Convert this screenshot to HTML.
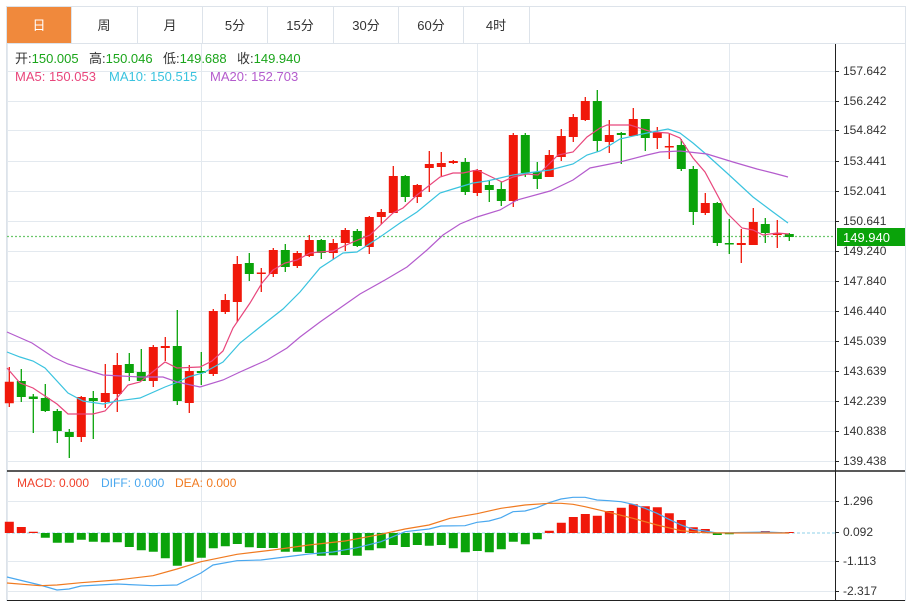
<!DOCTYPE html><html><head><meta charset="utf-8"><style>
body{margin:0;background:#fff;width:911px;height:602px;overflow:hidden;font-family:"Liberation Sans","Noto Sans CJK SC",sans-serif}
</style></head><body>
<svg width="911" height="602" xmlns="http://www.w3.org/2000/svg" font-family="Liberation Sans, Noto Sans CJK SC, sans-serif">
<rect x="6.5" y="6.5" width="899" height="594" fill="#fff" stroke="#dde3ea"/>
<rect x="7" y="7" width="64" height="36" fill="#f0893c"/>
<g stroke="#dde3ea"><line x1="71.5" y1="7" x2="71.5" y2="43"/><line x1="137.5" y1="7" x2="137.5" y2="43"/><line x1="202.5" y1="7" x2="202.5" y2="43"/><line x1="267.5" y1="7" x2="267.5" y2="43"/><line x1="333.5" y1="7" x2="333.5" y2="43"/><line x1="398.5" y1="7" x2="398.5" y2="43"/><line x1="463.5" y1="7" x2="463.5" y2="43"/><line x1="529.5" y1="7" x2="529.5" y2="43"/><line x1="7" y1="43.5" x2="905" y2="43.5"/></g>
<g font-size="13" text-anchor="middle" fill="#333"><text x="39" y="30" fill="#fff">日</text><text x="104" y="30">周</text><text x="170" y="30">月</text><text x="235" y="30">5分</text><text x="300" y="30">15分</text><text x="366" y="30">30分</text><text x="431" y="30">60分</text><text x="496" y="30">4时</text></g>
<g stroke="#e3e9ef"><line x1="7" y1="71.5" x2="835" y2="71.5"/><line x1="7" y1="101.5" x2="835" y2="101.5"/><line x1="7" y1="130.5" x2="835" y2="130.5"/><line x1="7" y1="161.5" x2="835" y2="161.5"/><line x1="7" y1="191.5" x2="835" y2="191.5"/><line x1="7" y1="221.5" x2="835" y2="221.5"/><line x1="7" y1="251.5" x2="835" y2="251.5"/><line x1="7" y1="281.5" x2="835" y2="281.5"/><line x1="7" y1="311.5" x2="835" y2="311.5"/><line x1="7" y1="341.5" x2="835" y2="341.5"/><line x1="7" y1="371.5" x2="835" y2="371.5"/><line x1="7" y1="401.5" x2="835" y2="401.5"/><line x1="7" y1="431.5" x2="835" y2="431.5"/><line x1="7" y1="461.5" x2="835" y2="461.5"/>
<line x1="7" y1="501.5" x2="835" y2="501.5"/><line x1="7" y1="561.5" x2="835" y2="561.5"/><line x1="7" y1="591.5" x2="835" y2="591.5"/>
<line x1="7.5" y1="44" x2="7.5" y2="600"/><line x1="201.5" y1="44" x2="201.5" y2="600"/><line x1="477.5" y1="44" x2="477.5" y2="600"/><line x1="729.5" y1="44" x2="729.5" y2="600"/></g>
<line x1="835.5" y1="44" x2="835.5" y2="601" stroke="#222"/>
<line x1="7" y1="471" x2="905" y2="471" stroke="#222" stroke-width="1.5"/>
<line x1="7" y1="600.5" x2="905" y2="600.5" stroke="#222"/>
<g font-size="12" fill="#333"><text x="843" y="75">157.642</text><text x="843" y="105">156.242</text><text x="843" y="134">154.842</text><text x="843" y="165">153.441</text><text x="843" y="195">152.041</text><text x="843" y="225">150.641</text><text x="843" y="255">149.240</text><text x="843" y="285">147.840</text><text x="843" y="315">146.440</text><text x="843" y="345">145.039</text><text x="843" y="375">143.639</text><text x="843" y="405">142.239</text><text x="843" y="435">140.838</text><text x="843" y="465">139.438</text>
<text x="843" y="505">1.296</text><text x="843" y="536">0.092</text><text x="843" y="565">-1.113</text><text x="843" y="595">-2.317</text></g>
<g stroke="#222"><line x1="835" y1="71.5" x2="839" y2="71.5"/><line x1="835" y1="101.5" x2="839" y2="101.5"/><line x1="835" y1="130.5" x2="839" y2="130.5"/><line x1="835" y1="161.5" x2="839" y2="161.5"/><line x1="835" y1="191.5" x2="839" y2="191.5"/><line x1="835" y1="221.5" x2="839" y2="221.5"/><line x1="835" y1="251.5" x2="839" y2="251.5"/><line x1="835" y1="281.5" x2="839" y2="281.5"/><line x1="835" y1="311.5" x2="839" y2="311.5"/><line x1="835" y1="341.5" x2="839" y2="341.5"/><line x1="835" y1="371.5" x2="839" y2="371.5"/><line x1="835" y1="401.5" x2="839" y2="401.5"/><line x1="835" y1="431.5" x2="839" y2="431.5"/><line x1="835" y1="461.5" x2="839" y2="461.5"/><line x1="835" y1="501.5" x2="839" y2="501.5"/><line x1="835" y1="532.5" x2="839" y2="532.5"/><line x1="835" y1="561.5" x2="839" y2="561.5"/><line x1="835" y1="591.5" x2="839" y2="591.5"/></g>
<line x1="7" y1="533" x2="835" y2="533" stroke="#8fd0ea" stroke-dasharray="3,2"/>
<line x1="7" y1="236.5" x2="835" y2="236.5" stroke="#6cc76c" stroke-dasharray="2,2" stroke-width="1.3"/>
<rect x="837" y="228" width="68" height="18" fill="#0aa30a"/><text x="843" y="242" font-size="13" fill="#fff">149.940</text>
<g font-size="13"><text x="15" y="63" fill="#333">开:<tspan fill="#1aa51a">150.005</tspan></text><text x="89" y="63" fill="#333">高:<tspan fill="#1aa51a">150.046</tspan></text><text x="163" y="63" fill="#333">低:<tspan fill="#1aa51a">149.688</tspan></text><text x="237" y="63" fill="#333">收:<tspan fill="#1aa51a">149.940</tspan></text>
<text x="15" y="81" fill="#e8467c">MA5: 150.053</text><text x="109" y="81" fill="#3ac3df">MA10: 150.515</text><text x="210" y="81" fill="#b45ccd">MA20: 152.703</text>
<text x="17" y="487" font-size="12" fill="#f0402a">MACD: 0.000</text><text x="101" y="487" font-size="12" fill="#4aa8ef">DIFF: 0.000</text><text x="175" y="487" font-size="12" fill="#f07a20">DEA: 0.000</text></g>
<path fill="none" stroke="#f0180a" stroke-width="1.3" d="M9.3 367V407 M81.3 396V442 M105.3 364V408 M117.3 353V412 M153.3 345V387 M165.3 337V361 M189.3 365V413 M213.3 309V376 M225.3 294V314 M237.3 256V322 M261.3 268V292 M273.3 248V277 M297.3 251V268 M309.3 235V257 M333.3 239V259 M345.3 228V251 M369.3 216V254 M381.3 209V224 M393.3 166V213 M417.3 184V203 M429.3 151V192 M441.3 152V176 M453.3 160V164 M477.3 169V196 M513.3 133V207 M549.3 150V177 M561.3 129V161 M573.3 114V142 M585.3 97V121 M609.3 120V153 M633.3 108V136 M657.3 127V149 M669.3 134V159 M705.3 193V215 M741.3 229V263 M753.3 208V245 M777.3 220V248"/>
<path fill="#f0180a" d="M4.8 381.7h9v21.6h-9z M76.8 397h9v40h-9z M100.8 393h9v9h-9z M112.8 365h9v29h-9z M148.8 347h9v34h-9z M160.8 346h9v2h-9z M184.8 371h9v32h-9z M208.8 311h9v63h-9z M220.8 300h9v12h-9z M232.8 264h9v38h-9z M256.8 272.5h9v1.5h-9z M268.8 250h9v24h-9z M292.8 253h9v13h-9z M304.8 240h9v16h-9z M328.8 243h9v10h-9z M340.8 230h9v13h-9z M364.8 217h9v30h-9z M376.8 212h9v5h-9z M388.8 176h9v37h-9z M412.8 185h9v12h-9z M424.8 164h9v4h-9z M436.8 163h9v4h-9z M448.8 161h9v2h-9z M472.8 170h9v23h-9z M508.8 135h9v66h-9z M544.8 155h9v22h-9z M556.8 136h9v21h-9z M568.8 117h9v20h-9z M580.8 101h9v19h-9z M604.8 135h9v7h-9z M628.8 119h9v17h-9z M652.8 132h9v6h-9z M664.8 146h9v1.5h-9z M700.8 203h9v10h-9z M736.8 243h9v2h-9z M748.8 222h9v23h-9z M772.8 233h9v2h-9z"/>
<path fill="none" stroke="#0aa30a" stroke-width="1.3" d="M21.3 369V402 M33.3 394V433 M45.3 384V412 M57.3 409V443 M69.3 429V458 M93.3 391V439 M129.3 353V381 M141.3 349V381 M177.3 310V405 M201.3 352V385 M249.3 253V281 M285.3 244V272 M321.3 239V259 M357.3 229V247 M405.3 175V202 M465.3 158V195 M489.3 180V202 M501.3 182V206 M525.3 133V177 M537.3 162V189 M597.3 90V152 M621.3 132V164 M645.3 119V151 M681.3 139V171 M693.3 166V225 M717.3 202V246 M729.3 219V254 M765.3 218V243 M789.3 233V241"/>
<path fill="#0aa30a" d="M16.8 381h9v16h-9z M28.8 396.5h9v2.5h-9z M40.8 398h9v13h-9z M52.8 411h9v20h-9z M64.8 432h9v5h-9z M88.8 398h9v3h-9z M124.8 364h9v9h-9z M136.8 372h9v9h-9z M172.8 346h9v55h-9z M196.8 371h9v2h-9z M244.8 263h9v11h-9z M280.8 250h9v17h-9z M316.8 240h9v13h-9z M352.8 231h9v15h-9z M400.8 176h9v21h-9z M460.8 162h9v30h-9z M484.8 185h9v5h-9z M496.8 189h9v12h-9z M520.8 135h9v38h-9z M532.8 172h9v7h-9z M592.8 101h9v40h-9z M616.8 133h9v2h-9z M640.8 119h9v19h-9z M676.8 145h9v24h-9z M688.8 169h9v43h-9z M712.8 203h9v40h-9z M724.8 243h9v1.5h-9z M760.8 224h9v9h-9z M784.8 234h9v3h-9z"/>
<path fill="#f0180a" d="M4.8 521.7h9V533h-9z M16.8 527h9V533h-9z M28.8 531.7h9V533h-9z M544.8 530.7h9V533h-9z M556.8 522.7h9V533h-9z M568.8 517h9V533h-9z M580.8 514h9V533h-9z M592.8 515.7h9V533h-9z M604.8 511h9V533h-9z M616.8 507.7h9V533h-9z M628.8 504.3h9V533h-9z M640.8 506.3h9V533h-9z M652.8 507.3h9V533h-9z M664.8 513.3h9V533h-9z M676.8 520h9V533h-9z M688.8 527.3h9V533h-9z M700.8 529h9V533h-9z M736.8 532h9V533h-9z M748.8 532h9V533h-9z M760.8 531h9V533h-9z M772.8 532h9V533h-9z M784.8 532h9V533h-9z"/>
<path fill="#0aa30a" d="M40.8 533h9V537.7h-9z M52.8 533h9V542.7h-9z M64.8 533h9V542.7h-9z M76.8 533h9V539.7h-9z M88.8 533h9V541.7h-9z M100.8 533h9V542.3h-9z M112.8 533h9V542.3h-9z M124.8 533h9V547h-9z M136.8 533h9V550.3h-9z M148.8 533h9V551.7h-9z M160.8 533h9V558.3h-9z M172.8 533h9V565.7h-9z M184.8 533h9V561.7h-9z M196.8 533h9V557.7h-9z M208.8 533h9V548.3h-9z M220.8 533h9V546.3h-9z M232.8 533h9V544h-9z M244.8 533h9V547.3h-9z M256.8 533h9V548h-9z M268.8 533h9V548h-9z M280.8 533h9V551.7h-9z M292.8 533h9V551.7h-9z M304.8 533h9V553h-9z M316.8 533h9V555.7h-9z M328.8 533h9V555.3h-9z M340.8 533h9V555h-9z M352.8 533h9V555.7h-9z M364.8 533h9V550.3h-9z M376.8 533h9V548.3h-9z M388.8 533h9V545h-9z M400.8 533h9V547h-9z M412.8 533h9V545h-9z M424.8 533h9V545.7h-9z M436.8 533h9V545h-9z M448.8 533h9V548.3h-9z M460.8 533h9V552.3h-9z M472.8 533h9V551h-9z M484.8 533h9V552.3h-9z M496.8 533h9V549.3h-9z M508.8 533h9V541.7h-9z M520.8 533h9V544.3h-9z M532.8 533h9V539.3h-9z M712.8 533h9V535h-9z M724.8 533h9V534.3h-9z"/>
<polyline fill="none" stroke="#e8467c" stroke-width="1.2" points="7,368 20,383 33,388 57,404 68,414 93,414 105,411 117,398 128,385 140,382 165,362 177,368 200,367 212,361 223,351 233,328 250,303 262,283 273,270 285,263 297,260 310,253 320,252 333,251 353,242 370,235 393,213 403,208 417,195 440,177 453,173 463,173 477,170 502,182 513,177 527,174 538,175 558,155 573,152 587,137 600,128 607,125 630,125 652,132 668,133 680,138 693,158 705,172 727,213 742,228 753,230 763,235 777,233 789,234"/>
<polyline fill="none" stroke="#3ac3df" stroke-width="1.2" points="7,352 20,357 33,361 45,368 68,393 83,401 103,404 117,401 140,398 165,387 178,382 188,377 203,373 223,362 240,343 260,327 283,309 300,292 320,268 343,253 357,252 380,237 400,223 417,212 440,193 453,189 473,183 487,181 500,178 513,175 527,173 550,170 573,164 587,155 600,151 607,147 620,139 647,133 668,129 680,133 693,143 707,155 727,173 753,197 773,212 788,223"/>
<polyline fill="none" stroke="#b45ccd" stroke-width="1.2" points="7,332 32,343 53,357 68,364 103,375 140,377 163,377 177,382 200,387 223,380 240,372 267,360 287,348 300,337 320,322 340,308 360,294 385,280 407,267 427,250 443,235 460,224 477,217 500,210 517,200 550,191 573,180 590,168 600,166 620,162 647,155 660,152 680,151 707,154 733,162 757,169 773,173 788,177"/>
<polyline fill="none" stroke="#4aa8ef" stroke-width="1.2" points="7,577 40,585 57,590 69,589 81,586 117,584 153,585.7 177,585 201,573 213,565 237,560.7 261,560 285,557 309,554 333,552 357,547.7 381,541.7 405,531.7 429,529 441,526 465,525.7 477,522.3 489,521 501,517.7 513,511.7 525,511 537,507.7 549,502.7 561,499 573,497.3 585,497.3 597,500 609,500.7 621,501.7 633,504.3 645,508.3 657,513.3 669,519.3 681,525 693,529.3 705,531 717,533 741,532.5 765,532 789,533"/>
<polyline fill="none" stroke="#f07a20" stroke-width="1.2" points="7,583 40,585.7 57,585 81,582.7 117,580 153,575.7 177,569 201,561.7 237,554.3 273,550 309,545 345,541 381,534.3 405,529 429,525 450,518.3 477,513.7 501,508.3 525,505 549,503.3 561,503.3 573,504.3 585,506.7 609,512.3 633,518.3 657,525 681,530.7 705,532.7 729,533 789,533"/>
</svg>
</body></html>
